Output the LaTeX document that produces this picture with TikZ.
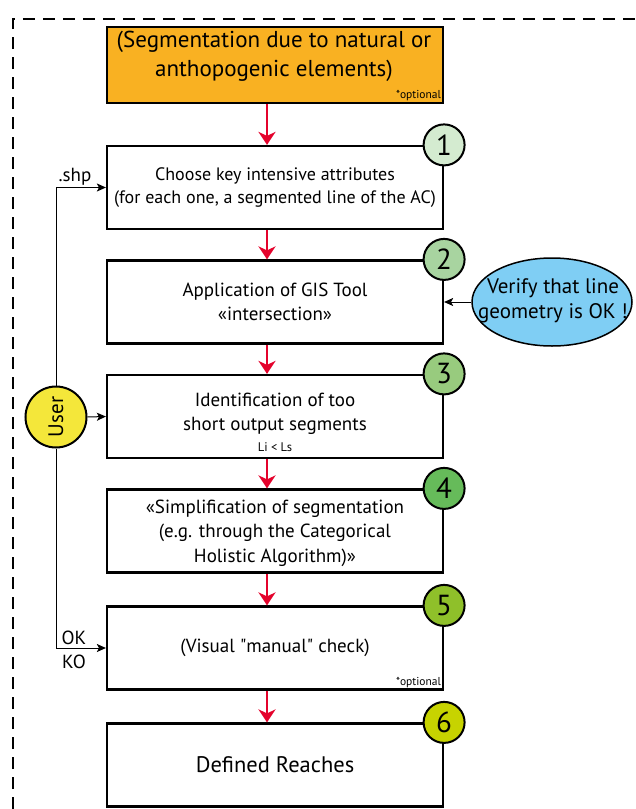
\documentclass[tikz,border=0pt]{standalone}
\usepackage{fontspec}
\setmainfont{PT Sans}
\newfontfamily\qfont{PT Sans}
\usetikzlibrary{arrows.meta,shapes.geometric}
\definecolor{orangebox}{HTML}{F9B122}
\definecolor{redarr}{HTML}{E4032C}
\definecolor{bluell}{HTML}{7FCEF4}
\definecolor{useryel}{HTML}{F4E73A}
\definecolor{cA}{HTML}{D4EBD0}
\definecolor{cB}{HTML}{A8D4A0}
\definecolor{cC}{HTML}{98CB7E}
\definecolor{cD}{HTML}{66BB5A}
\definecolor{cE}{HTML}{8FC02A}
\definecolor{cF}{HTML}{C7D300}
\newcommand{\fs}[2]{\fontsize{#1}{#2}\selectfont}
\begin{document}
\begin{tikzpicture}[x=1pt,y=-1pt,
  stepbox/.style={draw, line width=2.2pt, minimum width=336pt, minimum height=83pt, inner sep=0pt, align=center, font=\fs{19}{24.5}},
  txt/.style={align=center, inner sep=0pt, font=\fs{19}{24.5}},
  numcirc/.style={circle, draw, line width=2pt, minimum size=41pt, inner sep=0pt, font=\fs{29}{30}},
  redarrow/.style={draw=redarr, line width=2.4pt, -{Stealth[length=13pt,width=17pt,inset=4pt]}},
  blackarrow/.style={draw=black, line width=1pt, -{Stealth[length=9pt,width=8pt,inset=2pt]}},
  frame/.style={draw, line width=2pt, dash pattern=on 12pt off 8pt},
  small/.style={font=\fs{11.5}{13}, inner sep=0pt},
  lbl/.style={font=\fs{19}{20}, inner sep=0pt}
]
\useasboundingbox (0,0) rectangle (636,809);
\draw[frame] (13,809) -- (13,19) -- (636,19);

% boxes
\node[stepbox, fill=orangebox, minimum height=76pt] (o) at (275,65) {};
\node[txt, font=\fs{23}{29}] (ot) at (274,56) {(Segmentation due to natural or\\anthopogenic elements)};
\node[small, anchor=south east] (oopt) at ([xshift=-3pt,yshift=3pt]o.south east) {*optional};

\node[stepbox, font=\fs{18}{23.5}] (b1) at (275,187.5) {Choose key intensive attributes\\(for each one, a segmented line of the AC)};
\node[stepbox] (b2) at (275,302) {Application of GIS Tool\\«intersection»};
\node[stepbox] (b3) at (275,416.5) {};
\node[txt] (b3t) at (275,414) {Identification of too\\short output segments};
\node[font=\fs{12.5}{14}, inner sep=0pt] (b3s) at (275,447) {Li < Ls};
\node[stepbox] (b4) at (275,531) {};
\node[txt] (b4t) at (275,533) {«Simplification of segmentation\\(e.g. through the Categorical\\Holistic Algorithm)»};
\node[stepbox] (b5) at (275,648) {(Visual {\qfont"}manual{\qfont"} check)};
\node[small, anchor=south east] (b5opt) at ([xshift=-3pt,yshift=3pt]b5.south east) {*optional};
\node[stepbox, font=\fs{22.5}{24}] (b6) at (275,765) {Defined Reaches};

% number circles
\node[numcirc, fill=cA] (n1) at (b1.north east) {1};
\node[numcirc, fill=cB] (n2) at (b2.north east) {2};
\node[numcirc, fill=cC] (n3) at (b3.north east) {3};
\node[numcirc, fill=cD] (n4) at (b4.north east) {4};
\node[numcirc, fill=cE] (n5) at (b5.north east) {5};
\node[numcirc, fill=cF] (n6) at (b6.north east) {6};

% red flow arrows
\draw[redarrow] ([xshift=-8pt]o.south) -- ([xshift=-8pt]b1.north);
\draw[redarrow] ([xshift=-8pt]b1.south) -- ([xshift=-8pt]b2.north);
\draw[redarrow] ([xshift=-8pt]b2.south) -- ([xshift=-8pt]b3.north);
\draw[redarrow] ([xshift=-8pt]b3.south) -- ([xshift=-8pt]b4.north);
\draw[redarrow] ([xshift=-8pt]b4.south) -- ([xshift=-8pt]b5.north);
\draw[redarrow] ([xshift=-8pt]b5.south) -- ([xshift=-8pt]b6.north);

% ellipse
\node[ellipse, draw, line width=1.5pt, fill=bluell, minimum width=160pt, minimum height=88pt, inner sep=0pt] (ver) at (552,302) {};
\node[txt, font=\fs{21}{25}] (vert) at (553,301) {Verify that line\\geometry is OK !};
\draw[blackarrow] (ver.west) -- (b2.east);

% user
\node[circle, draw, line width=2pt, fill=useryel, minimum size=61pt, inner sep=0pt, rotate=90, font=\fs{21}{22}] (user) at (56,417) {User};
\draw[blackarrow] (user.east) |- (b1.west);
\draw[blackarrow] (user.west) |- (b5.west);
\draw[blackarrow] (user.south) -- (b3.west);

% labels
\node[lbl] (shp) at (75,177) {.shp};
\node[lbl] (ok) at (74,638) {OK};
\node[lbl] (ko) at (74,662) {KO};
\end{tikzpicture}
\end{document}
